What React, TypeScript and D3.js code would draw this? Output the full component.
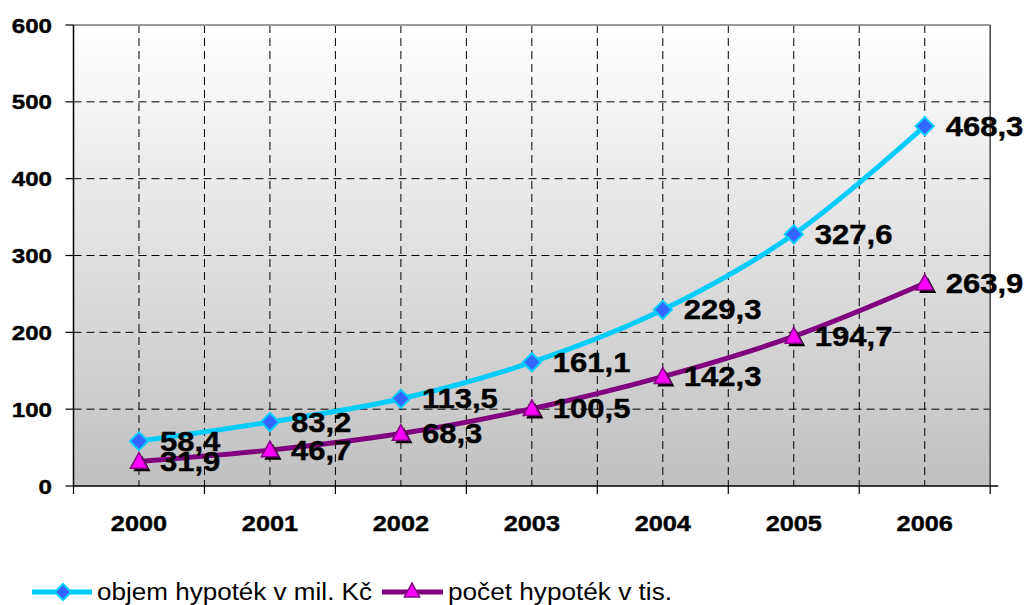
import React from "react";
import * as d3 from "d3";

const years = ["2000", "2001", "2002", "2003", "2004", "2005", "2006"];
const objem = [58.4, 83.2, 113.5, 161.1, 229.3, 327.6, 468.3];
const pocet = [31.9, 46.7, 68.3, 100.5, 142.3, 194.7, 263.9];
const objemLabels = ["58,4", "83,2", "113,5", "161,1", "229,3", "327,6", "468,3"];
const pocetLabels = ["31,9", "46,7", "68,3", "100,5", "142,3", "194,7", "263,9"];
const yTicks = [0, 100, 200, 300, 400, 500, 600];
const seriesNames = ["objem hypoték v mil. Kč", "počet hypoték v tis."];

const W = 1028, H = 605;
const L = 73.5, R = 990.2, T = 25, B = 486;
const SX = 1.15;

function Txt({ x, y, size, bold, anchor, children, sx = SX }: any) {
  return (
    <text
      transform={`translate(${x},${y}) scale(${sx},1)`}
      fontFamily="Liberation Sans, Arial, sans-serif"
      fontSize={size}
      fontWeight={bold ? "bold" : "normal"}
      textAnchor={anchor || "start"}
      fill="#000"
      stroke="#000"
      strokeWidth={0.4}
    >
      {children}
    </text>
  );
}

export default function App() {
  const x = d3.scaleBand<string>().domain(years).range([L, R]);
  const y = d3.scaleLinear().domain([0, 600]).range([B, T]);
  const cx = (d: string) => (x(d) as number) + x.bandwidth() / 2;
  const line = d3
    .line<number>()
    .x((_, i) => cx(years[i]))
    .y((v) => y(v))
    .curve(d3.curveCatmullRom.alpha(0.5));

  const boundaries = years.map((d) => x(d) as number).slice(1);
  const diamond = (s: number) => `M0,${-s}L${s},0L0,${s}L${-s},0Z`;
  const tri = (s: number) => `M0,${-s}L${s * 0.95},${s * 0.75}L${-s * 0.95},${s * 0.75}Z`;

  return (
    <svg width={W} height={H} style={{ position: "absolute", left: 0, top: 0, background: "#fff" }}>
      <defs>
        <linearGradient id="bg" x1="0" y1="0" x2="0" y2="1">
          <stop offset="0" stopColor="#ffffff" />
          <stop offset="1" stopColor="#c0c0c0" />
        </linearGradient>
      </defs>
      <rect x={L} y={T} width={R - L} height={B - T} fill="url(#bg)" />
      {yTicks.filter((t) => t > 0 && t < 600).map((t) => (
        <line key={"h" + t} x1={L} x2={R} y1={y(t)} y2={y(t)} stroke="#000" strokeWidth={1} strokeDasharray="8,5" />
      ))}
      {years.map((d) => (
        <line key={"vc" + d} x1={cx(d)} x2={cx(d)} y1={T} y2={B} stroke="#000" strokeWidth={1} strokeDasharray="8,5" />
      ))}
      {boundaries.map((b, i) => (
        <line key={"vb" + i} x1={b} x2={b} y1={T} y2={B} stroke="#000" strokeWidth={1} strokeDasharray="8,5" />
      ))}
      <line x1={L} x2={R} y1={T} y2={T} stroke="#999" strokeWidth={2} />
      <line x1={R} x2={R} y1={T} y2={B} stroke="#444" strokeWidth={1.5} />
      <line x1={L} x2={L} y1={T} y2={B + 0.5} stroke="#000" strokeWidth={1.5} />
      <line x1={L - 0.5} x2={R + 8} y1={B} y2={B} stroke="#000" strokeWidth={1.5} />
      {yTicks.map((t) => (
        <line key={"yt" + t} x1={L - 8} x2={L} y1={y(t)} y2={y(t)} stroke="#000" strokeWidth={1.2} />
      ))}
      {[L, ...boundaries, R].map((b, i) => (
        <line key={"xt" + i} x1={b} x2={b} y1={B} y2={B + 8} stroke="#000" strokeWidth={1.2} />
      ))}
      {yTicks.map((t) => (
        <Txt key={"yl" + t} x={52} y={y(t) + 7.5} size={21} bold anchor="end">
          {String(t)}
        </Txt>
      ))}
      {years.map((d) => (
        <Txt key={"xl" + d} x={cx(d)} y={531} size={22} bold anchor="middle">
          {d}
        </Txt>
      ))}
      <path d={line(objem) as string} fill="none" stroke="#00CCFF" strokeWidth={5} />
      <path d={line(pocet) as string} fill="none" stroke="#800080" strokeWidth={5} />
      {objem.map((v, i) => (
        <path key={"dm" + i} d={diamond(9)} transform={`translate(${cx(years[i])},${y(v)})`} fill="#3366FF" stroke="#00CCFF" strokeWidth={2} />
      ))}
      {pocet.map((v, i) => (
        <g key={"tm" + i} transform={`translate(${cx(years[i])},${y(v)})`}>
          <path d={tri(9)} transform="translate(3,3)" fill="#000" />
          <path d={tri(9)} fill="#FF00FF" stroke="#800080" strokeWidth={1.5} />
        </g>
      ))}
      {objem.map((v, i) => (
        <Txt key={"ol" + i} x={cx(years[i]) + 21} y={y(v) + 9.5} size={27} bold>
          {objemLabels[i]}
        </Txt>
      ))}
      {pocet.map((v, i) => (
        <Txt key={"pl" + i} x={cx(years[i]) + 21} y={y(v) + 9.5} size={27} bold>
          {pocetLabels[i]}
        </Txt>
      ))}
      <line x1={32} x2={92} y1={592} y2={592} stroke="#00CCFF" strokeWidth={5} />
      <path d={diamond(8)} transform="translate(63,592)" fill="#3366FF" stroke="#00CCFF" strokeWidth={2} />
      <text x={97} y={600} fontFamily="Liberation Sans, Arial, sans-serif" fontSize={23} textLength={275} lengthAdjust="spacingAndGlyphs">
        {seriesNames[0]}
      </text>
      <line x1={382} x2={443} y1={592} y2={592} stroke="#800080" strokeWidth={5} />
      <path d={tri(8)} transform="translate(412,591)" fill="#FF00FF" stroke="#800080" strokeWidth={1.5} />
      <text x={448} y={600} fontFamily="Liberation Sans, Arial, sans-serif" fontSize={23} textLength={224} lengthAdjust="spacingAndGlyphs">
        {seriesNames[1]}
      </text>
    </svg>
  );
}
